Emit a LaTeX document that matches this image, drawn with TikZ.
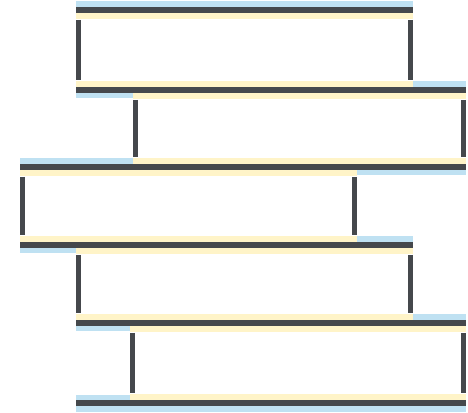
\documentclass[tikz,border=0pt]{standalone}
\usepackage{tikz}
\usetikzlibrary{calc}
\definecolor{edgegray}{HTML}{45484C}
\definecolor{bandblue}{HTML}{BFE1F2}
\definecolor{bandyellow}{HTML}{FFF4C8}
\tikzset{
  brick edge/.style={draw=edgegray,line width=3.8pt},
  brick post/.style={draw=edgegray,line width=3pt},
  outer band/.style={fill=bandblue},
  inner band/.style={fill=bandyellow}
}
\newcommand{\brickrows}{76/413/10/90,133/466/90/167,20/357/167/245,76/413/245/323,130/466/323/403}

\begin{document}
\begin{tikzpicture}[x=0.025cm,y=-0.025cm,line cap=butt]
  \useasboundingbox (0,0) rectangle (468,413);

  % outside bands first
  \foreach \xa/\xb/\ya/\yb in \brickrows {
    \fill[outer band] (\xa,\ya-8.5) rectangle (\xb,\ya-2.5);
    \fill[outer band] (\xa,\yb+2.5) rectangle (\xb,\yb+8.5);
  }
  \fill[outer band] (76,394.5) rectangle (130,400.5);
  \fill[outer band] (76,405.5) rectangle (130,411.5);
  % inside bands on top
  \foreach \xa/\xb/\ya/\yb in \brickrows {
    \fill[inner band] (\xa,\ya+2.5) rectangle (\xb,\ya+9);
    \fill[inner band] (\xa,\yb-9) rectangle (\xb,\yb-2.5);
  }

  % edges and posts
  \foreach \xa/\xb/\ya/\yb in \brickrows {
    \coordinate (tl) at (\xa,\ya);
    \coordinate (tr) at (\xb,\ya);
    \coordinate (bl) at (\xa,\yb);
    \coordinate (br) at (\xb,\yb);
    \draw[brick edge] (tl) -- (tr) (bl) -- (br);
    \draw[brick post] ($(tl)+(2.5,10)$) -- ($(bl)+(2.5,-10)$)
                      ($(tr)+(-2.5,10)$) -- ($(br)+(-2.5,-10)$);
  }
  \draw[brick edge] (76,403) -- (130,403);
\end{tikzpicture}
\end{document}
